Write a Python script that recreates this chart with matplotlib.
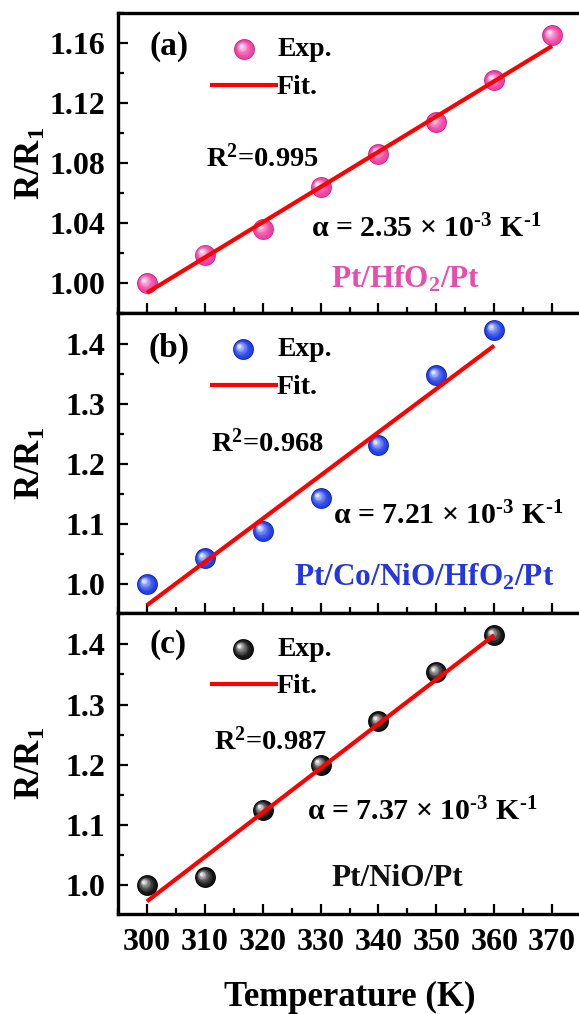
import numpy as np
import matplotlib
matplotlib.use("Agg")
import matplotlib.pyplot as plt
from matplotlib.ticker import MultipleLocator, FormatStrFormatter
from matplotlib.transforms import offset_copy
from matplotlib.colors import to_rgb

plt.rcParams["font.family"] = ["Liberation Serif", "DejaVu Serif"]
plt.rcParams["font.weight"] = "bold"
plt.rcParams["mathtext.fontset"] = "custom"
plt.rcParams["mathtext.rm"] = "Liberation Serif:bold"
plt.rcParams["mathtext.it"] = "Liberation Serif:bold:italic"
plt.rcParams["mathtext.bf"] = "Liberation Serif:bold"
plt.rcParams["mathtext.default"] = "rm"

# ---- data -------------------------------------------------------------
temp_a = [300, 310, 320, 330, 340, 350, 360, 370]
ratio_a = [1.000, 1.019, 1.036, 1.064, 1.086, 1.107, 1.135, 1.165]

temp_b = [300, 310, 320, 330, 340, 350, 360]
ratio_b = [1.000, 1.043, 1.089, 1.143, 1.232, 1.348, 1.424]

temp_c = [300, 310, 320, 330, 340, 350, 360]
ratio_c = [1.000, 1.013, 1.125, 1.200, 1.272, 1.354, 1.415]

# linear fits: value at 300 K and slope (alpha, per K)
fit_start = [0.9935, 0.965, 0.973]
alpha = [2.35e-3, 7.21e-3, 7.37e-3]
r_squared = ["0.995", "0.968", "0.987"]
alpha_labels = ["2.35", "7.21", "7.37"]
panel_tags = ["(a)", "(b)", "(c)"]
device_labels = ["Pt/HfO$_2$/Pt", "Pt/Co/NiO/HfO$_2$/Pt", "Pt/NiO/Pt"]

x_ticks = [300, 310, 320, 330, 340, 350, 360, 370]

# ---- styling ------------------------------------------------------------
ball_colors = ["#ee3fa2", "#1f3de6", "#111111"]
ball_edges = ["#c8207f", "#0b1fae", "#000000"]
ball_lights = ["#ffe6f4", "#dfe8ff", "#e8e8e8"]
label_colors = ["#ea4cae", "#2436e0", "#111111"]
fit_color = "#ff0000"

W, H = 579, 1014
fig = plt.figure(figsize=(W / 100, H / 100), dpi=100)

left_px, right_px = 118, 581
panel_px = [(13, 313), (313, 613), (613, 914)]
ylims = [(0.98, 1.18), (0.952, 1.452), (0.952, 1.452)]
ymaj = [0.04, 0.1, 0.1]
yfmt = ["%.2f", "%.1f", "%.1f"]

# text placements in axes fraction
tag_pos = [(0.069, 0.89), (0.065, 0.883), (0.069, 0.894)]
exp_pos = [(0.273, 0.879), (0.269, 0.879), (0.269, 0.88)]
fit_y = [0.76, 0.76, 0.764]
r2_pos = [(0.189, 0.515), (0.2, 0.565), (0.208, 0.573)]
alpha_pos = [(0.4165, 0.28), (0.464, 0.322), (0.409, 0.34)]
dev_pos = [(0.461, 0.112), (0.381, 0.12), (0.461, 0.118)]


def blend(c1, c2, f):
    a, b = np.array(to_rgb(c1)), np.array(to_rgb(c2))
    return tuple(a * (1 - f) + b * f)


def draw_balls(ax, xs, ys, i, base_transform, ms=15.0, clip=True):
    """Shaded spheres: stacked discs shifting toward an upper-left highlight."""
    n = 10
    ax.plot(xs, ys, "o", ms=ms, mfc=ball_edges[i], mec="none",
            transform=base_transform, zorder=3, clip_on=clip)
    for k in range(n):
        f = k / (n - 1)
        size = ms * (0.93 - 0.78 * f)
        col = blend(ball_colors[i], ball_lights[i], f ** 1.6)
        tr = offset_copy(base_transform, fig=fig, x=-2.5 * f, y=2.5 * f, units="points")
        ax.plot(xs, ys, "o", ms=size, mfc=col, mec="none",
                transform=tr, zorder=3 + 0.01 * (k + 1), clip_on=clip)


temps = [temp_a, temp_b, temp_c]
ratios = [ratio_a, ratio_b, ratio_c]
axes = []
for i in range(3):
    top, bot = panel_px[i]
    ax = fig.add_axes([left_px / W, 1 - bot / H, (right_px - left_px) / W, (bot - top) / H])
    axes.append(ax)

    t = np.array(temps[i], dtype=float)
    r = np.array(ratios[i])
    draw_balls(ax, t, r, i, ax.transData)

    tf = np.array([t[0], t[-1]])
    ax.plot(tf, fit_start[i] + alpha[i] * (tf - 300), color=fit_color, lw=3.0,
            solid_capstyle="butt", zorder=6)

    ax.set_xlim(295, 375)
    ax.set_ylim(*ylims[i])
    ax.xaxis.set_major_locator(MultipleLocator(10))
    ax.xaxis.set_minor_locator(MultipleLocator(5))
    ax.yaxis.set_major_locator(MultipleLocator(ymaj[i]))
    ax.yaxis.set_minor_locator(MultipleLocator(ymaj[i] / 2))
    ax.yaxis.set_major_formatter(FormatStrFormatter(yfmt[i]))
    ax.tick_params(which="both", direction="in", top=False, right=False, width=1.6,
                   labelsize=23)
    ax.tick_params(which="major", length=7.5)
    ax.tick_params(which="minor", length=4.2)
    ax.tick_params(axis="y", pad=9)
    ax.tick_params(axis="x", pad=10)
    for lab in ax.get_xticklabels() + ax.get_yticklabels():
        lab.set_fontweight("bold")
    for s in ax.spines.values():
        s.set_linewidth(2.4)
    ax.spines["right"].set_visible(False)
    if i < 2:
        ax.tick_params(axis="x", labelbottom=False)

    ax.set_ylabel("R/R$_1$", fontsize=25, fontweight="bold")
    ax.yaxis.label.set_va("center")
    ax.yaxis.set_label_coords(-0.187, 0.5)

    # panel tag and hand-drawn legend
    ax.text(*tag_pos[i], panel_tags[i], transform=ax.transAxes, fontsize=24,
            fontweight="bold", ha="left", va="center")
    draw_balls(ax, [exp_pos[i][0]], [exp_pos[i][1]], i, ax.transAxes, clip=False)
    ax.text(0.345, exp_pos[i][1] - 0.002, "Exp.", transform=ax.transAxes, fontsize=20,
            fontweight="bold", ha="left", va="center")
    ax.plot([0.199, 0.345], [fit_y[i], fit_y[i]], color=fit_color, lw=3.0,
            transform=ax.transAxes, solid_capstyle="butt", zorder=6)
    ax.text(0.343, fit_y[i] - 0.008, "Fit.", transform=ax.transAxes, fontsize=20,
            fontweight="bold", ha="left", va="center")

    ax.text(*r2_pos[i], "R$^2$=" + r_squared[i], transform=ax.transAxes, fontsize=20.5,
            fontweight="bold", ha="left", va="center")
    ax.text(*alpha_pos[i],
            "α = " + alpha_labels[i] + r" × 10$^{\text{-}3}$ K$^{\text{-}1}$",
            transform=ax.transAxes, fontsize=21.5, fontweight="bold", ha="left", va="center")
    ax.text(*dev_pos[i], device_labels[i], transform=ax.transAxes, fontsize=22.5,
            fontweight="bold", color=label_colors[i], ha="left", va="center")

axes[-1].set_xlabel("Temperature (K)", fontsize=25, fontweight="bold")
axes[-1].xaxis.label.set_va("center")
axes[-1].xaxis.set_label_coords(0.5, -0.276)

fig.savefig("out.png", dpi=100)
